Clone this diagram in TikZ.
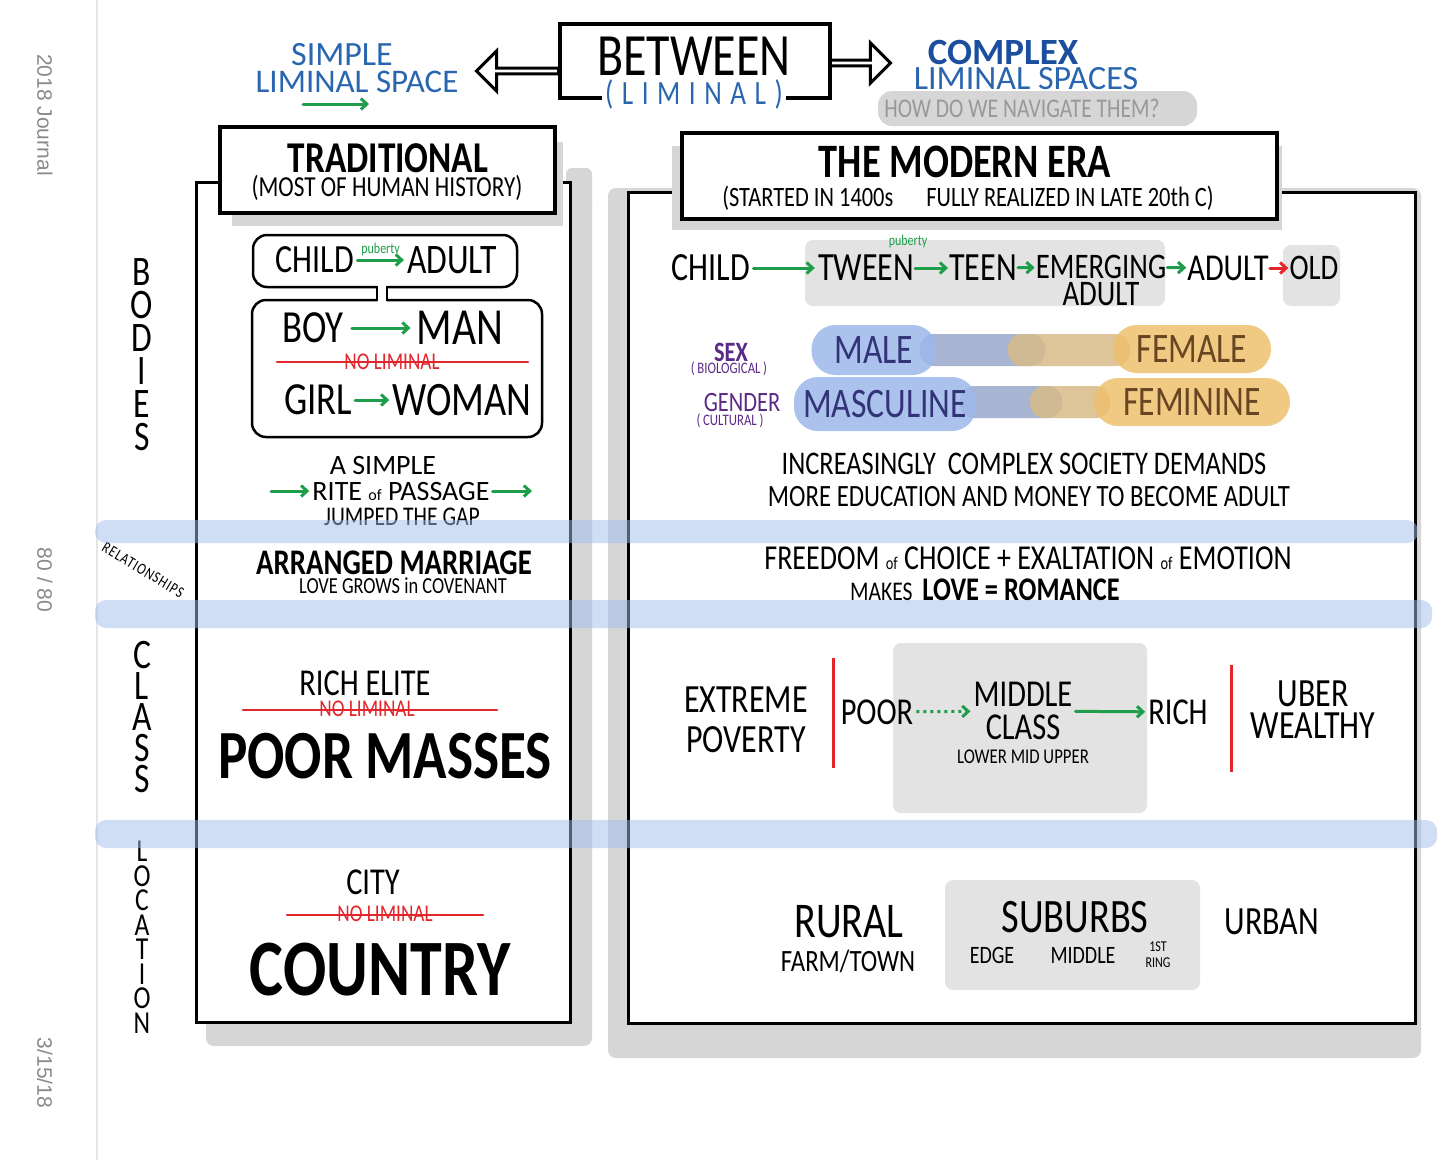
\documentclass[tikz,border=0pt]{standalone}
\usepackage{fontspec}
\setmainfont{Carlito}[FakeStretch=0.8]
\newfontfamily\handwide{Carlito}
\newfontfamily\sidefont{Liberation Sans}
\usepackage{tikz}
\usetikzlibrary{arrows.meta,positioning,shapes.arrows}

\definecolor{penblue}{HTML}{2A66B0}
\definecolor{deepblue}{HTML}{1B4F9E}
\definecolor{pengreen}{HTML}{1E9E4A}
\definecolor{penred}{HTML}{E3262B}
\definecolor{penpurple}{HTML}{5B2A86}
\definecolor{shadegrey}{HTML}{D6D6D6}
\definecolor{blockgrey}{HTML}{E3E3E3}
\definecolor{bandblue}{HTML}{A0BCEC}
\definecolor{maleblue}{HTML}{9DB8EA}
\definecolor{femorange}{HTML}{EEC06E}
\definecolor{bridgeblue}{HTML}{A7B4D2}
\definecolor{bridgetan}{HTML}{D8BC88}
\definecolor{pagegrey}{HTML}{8A8A8A}

\newcommand{\hsz}[1]{\fontsize{#1}{#1}\selectfont}
\newcommand{\hsl}[2]{\fontsize{#1}{#2}\selectfont}

\tikzset{
  hw/.style={inner sep=0pt},
  panel/.style={draw=black, line width=3pt, fill=white},
  titlebox/.style={draw=black, line width=3.5pt, fill=white},
  bubble/.style={draw=black, line width=2.5pt, rounded corners=14pt},
  greyblock/.style={fill=blockgrey, rounded corners=8pt},
  band/.style={fill=bandblue, fill opacity=0.5, rounded corners=11pt},
  garrow/.style={draw=pengreen, line width=3pt, line cap=round, -{Straight Barb[length=6pt, width=11pt]}, shorten <=3pt, shorten >=3pt},
  rarrow/.style={garrow, draw=penred},
  strike/.style={draw=penred, line width=2.5pt, line cap=round},
  nolim/.style={hw, text=penred, font=\hsz{24pt}},
  hollow/.style={single arrow, draw=black, fill=white, line width=3pt, inner sep=0pt, minimum width=40pt, single arrow head extend=9pt},
  sidetext/.style={text=pagegrey, rotate=-90, font=\sidefont\hsz{21pt}},
  blob/.style={hw, rounded corners=24pt, fill opacity=0.85, text opacity=1}
}

\begin{document}
\begin{tikzpicture}[x=1pt, y=-1pt]
\useasboundingbox (0,0) rectangle (1456,1160);
\fill[white] (0,0) rectangle (1456,1160);

% journal margin
\draw[black!10, line width=2pt] (97,0) -- (97,1160);
\node[sidetext] (journal) at (45,115) {2018 Journal};
\node[sidetext] (pages) at (45,580) {80 / 80};
\node[sidetext] (date) at (45,1073) {3/15/18};

% header
\node[hw, text=penblue, font=\handwide\hsz{34pt}] (simple) at (342,55) {SIMPLE};
\node[hw, text=penblue, font=\handwide\hsz{33pt}] (simplesp) at (357,82) {LIMINAL SPACE};
\coordinate (sa) at (300,104);
\coordinate (sb) at (372,104);
\draw[garrow] (sa) -- (sb);

\draw[titlebox] (560,24) rectangle (830,98);
\node[hw, font=\hsz{60pt}] (between) at (694,56) {BETWEEN};
\node[fill=white, inner sep=3pt, text=penblue, font={\hsz{34pt}\addfontfeatures{LetterSpace=25}}] (liminal) at (694,94) {(LIMINAL)};
\node[hollow, shape border rotate=180, minimum height=82pt] (leftarr) at (519,71) {};
\node[hollow, minimum height=60pt] (rightarr) at (859,63) {};

\node[hw, text=deepblue, font=\handwide\bfseries\hsz{37pt}] (complex) at (1003,52) {COMPLEX};
\node[hw, text=penblue, font=\handwide\hsz{34pt}] (complexsp) at (1026,79) {LIMINAL SPACES};
\fill[shadegrey, rounded corners=14pt] (878,91) rectangle (1197,126);
\node[hw, text=black!40, font=\hsz{27pt}] (navigate) at (1022,108) {HOW DO WE NAVIGATE THEM?};

% traditional panel
\fill[shadegrey, rounded corners=8pt] (206,192) rectangle (592,1046);
\fill[shadegrey, rounded corners=6pt] (566,168) rectangle (592,210);
\draw[panel] (196,182) rectangle (570,1022);
\fill[shadegrey] (232,142) rectangle (563,226);
\draw[titlebox] (220,127) rectangle (555,213);
\node[hw, font=\bfseries\hsz{44pt}] (trad) at (388,158) {TRADITIONAL};
\node[hw, font=\hsz{29pt}] (tradsub) at (387,188) {(MOST OF HUMAN HISTORY)};

% modern panel
\fill[shadegrey, rounded corners=8pt] (608,188) rectangle (1421,1058);
\draw[panel] (628,192) rectangle (1415,1023);
\fill[shadegrey] (672,146) rectangle (1282,230);
\draw[titlebox] (682,133) rectangle (1277,219);
\node[hw, font=\bfseries\hsz{48pt}] (modern) at (965,162) {THE MODERN ERA};
\node[hw, font=\hsz{28pt}] (modernsub) at (968,198) {(STARTED IN 1400s \quad FULLY REALIZED IN LATE 20th C)};

% row labels
\node[hw, align=center, font=\hsl{42pt}{33pt}] (bodies) at (142,355) {B\\O\\D\\I\\E\\S};
\node[hw, rotate=-31, font={\hsz{16pt}\addfontfeatures{LetterSpace=6}}] (rel) at (143,570) {RELATIONSHIPS};
\node[hw, align=center, font=\hsl{42pt}{31pt}] (class) at (142,717) {C\\L\\A\\S\\S};
\node[hw, align=center, font=\hsl{32pt}{24.5pt}] (location) at (142,937) {L\\O\\C\\A\\T\\I\\O\\N};

% traditional: bodies
\draw[bubble] (253,235) rectangle (517,287);
\draw[bubble] (252,300) rectangle (542,437);
\fill[white] (377,283) rectangle (387,304);
\draw[line width=2.5pt] (377,286) -- (377,301) (387,286) -- (387,301);
\node[hw, font=\hsz{40pt}] (lchild) at (315,260) {CHILD};
\node[hw, font=\hsz{42pt}] (ladult) at (452,260) {ADULT};
\draw[garrow] (lchild) -- (ladult) node[midway, above=3pt, hw, text=pengreen, font=\hsz{15pt}] (lpub) {puberty};
\node[hw, font=\hsz{46pt}] (boy) at (313,328) {BOY};
\node[hw, font=\hsz{52pt}] (man) at (460,328) {MAN};
\draw[garrow, shorten <=8pt, shorten >=6pt] (boy) -- (man);
\node[nolim] (nolim1) at (392,362) {NO LIMINAL};
\coordinate (s1a) at (277,362);
\coordinate (s1b) at (528,362);
\draw[strike] (s1a) -- (s1b);
\node[hw, font=\hsz{46pt}] (girl) at (318,400) {GIRL};
\node[hw, font=\hsz{48pt}] (woman) at (462,400) {WOMAN};
\draw[garrow] (girl) -- (woman);
\node[hw, font=\handwide\hsz{28pt}] (asimple) at (383,466) {A SIMPLE};
\node[hw, font=\handwide\hsz{28pt}] (rite) at (401,491) {RITE {\hsz{16pt}of} PASSAGE};
\coordinate (ra) at (268,491);
\coordinate (rb) at (535,491);
\draw[garrow] (ra) -- (rite);
\draw[garrow] (rite) -- (rb);
\node[hw, font=\hsz{27pt}] (jumped) at (402,517) {JUMPED THE GAP};

% traditional: relationships
\node[hw, font=\bfseries\hsz{36pt}] (arranged) at (394,563) {ARRANGED MARRIAGE};
\node[hw, font=\hsz{23pt}] (covenant) at (403,586) {LOVE GROWS in COVENANT};

% traditional: class
\node[hw, font=\hsz{38pt}] (elite) at (365,683) {RICH ELITE};
\node[nolim] (nolim2) at (367,709) {NO LIMINAL};
\coordinate (s2a) at (243,710);
\coordinate (s2b) at (497,710);
\draw[strike] (s2a) -- (s2b);
\node[hw, font=\bfseries\hsz{69pt}] (masses) at (385,756) {POOR MASSES};

% traditional: location
\node[hw, font=\hsz{38pt}] (city) at (373,882) {CITY};
\node[nolim] (nolim3) at (385,914) {NO LIMINAL};
\coordinate (s3a) at (287,915);
\coordinate (s3b) at (483,915);
\draw[strike] (s3a) -- (s3b);
\node[hw, font=\bfseries\hsz{80pt}] (country) at (380,970) {COUNTRY};

% modern: bodies
\fill[greyblock] (805,240) rectangle (1165,306);
\fill[greyblock] (1283,245) rectangle (1340,306);
\node[hw, font=\hsz{40pt}] (mchild) at (711,268) {CHILD};
\node[hw, font=\hsz{40pt}] (tween) at (866,268) {TWEEN};
\node[hw, font=\hsz{40pt}] (teen) at (983,268) {TEEN};
\node[hw, font=\hsz{36pt}] (emerg) at (1101,267) {EMERGING};
\node[hw, font=\hsz{36pt}, below=3pt of emerg] (emerg2) {ADULT};
\node[hw, font=\hsz{38pt}] (madult) at (1228,268) {ADULT};
\node[hw, font=\hsz{36pt}] (old) at (1314,268) {OLD};
\draw[garrow] (mchild) -- (tween);
\draw[garrow, shorten <=1pt, shorten >=1pt] (tween) -- (teen);
\draw[garrow, shorten <=1pt, shorten >=1pt] (teen) -- (emerg);
\draw[garrow, shorten <=1pt, shorten >=1pt] (emerg) -- (madult);
\draw[rarrow, shorten <=1pt, shorten >=1pt] (madult) -- (old);
\node[hw, text=pengreen, font=\hsz{15pt}] (mpub) at (908,241) {puberty};

\node[hw, text=penpurple, font=\bfseries\hsz{28pt}] (sex) at (731,352) {SEX};
\node[hw, text=penpurple, font=\hsz{16pt}] (bio) at (729,369) {(\,BIOLOGICAL\,)};
\node[hw, text=penpurple, font=\hsz{28pt}] (gender) at (742,403) {GENDER};
\node[hw, text=penpurple, font=\hsz{16pt}] (cult) at (730,421) {(\,CULTURAL\,)};
\fill[bridgeblue, rounded corners=14pt] (920,334) rectangle (1045,366);
\fill[bridgetan, opacity=0.85, rounded corners=14pt] (1008,334) rectangle (1130,366);
\fill[bridgeblue, rounded corners=14pt] (960,386) rectangle (1062,418);
\fill[bridgetan, opacity=0.85, rounded corners=14pt] (1030,386) rectangle (1110,418);
\node[blob, fill=maleblue, text=black!55!blue!60!gray, minimum width=125pt, minimum height=50pt, font=\hsz{42pt}] (male) at (874,350) {MALE};
\node[blob, fill=femorange, text=black!45!brown, minimum width=158pt, minimum height=48pt, font=\hsz{42pt}] (female) at (1192,349) {FEMALE};
\node[blob, fill=maleblue, text=black!55!blue!60!gray, minimum width=182pt, minimum height=54pt, font=\hsz{42pt}] (masc) at (885,404) {MASCULINE};
\node[blob, fill=femorange, text=black!45!brown, minimum width=196pt, minimum height=48pt, font=\hsz{42pt}] (fem) at (1192,402) {FEMININE};

\node[hw, font=\hsz{33pt}] (demands) at (1024,464) {INCREASINGLY \ COMPLEX SOCIETY DEMANDS};
\node[hw, font=\hsz{31pt}] (education) at (1029,497) {MORE EDUCATION AND MONEY TO BECOME ADULT};

% modern: relationships
\node[hw, font=\hsz{35pt}] (freedom) at (1028,558) {FREEDOM {\hsz{18pt}of} CHOICE + EXALTATION {\hsz{18pt}of} EMOTION};
\node[hw, font=\hsz{27pt}] (romance) at (985,590) {MAKES \ {\bfseries\hsz{33pt}LOVE = ROMANCE}};

% modern: class
\fill[greyblock] (893,643) rectangle (1147,813);
\node[hw, align=center, font=\hsl{40pt}{40pt}] (extreme) at (746,720) {EXTREME\\POVERTY};
\coordinate (r1a) at (833,658);
\coordinate (r1b) at (833,768);
\draw[penred, line width=3pt] (r1a) -- (r1b);
\node[hw, font=\hsz{38pt}] (poor) at (877,712) {POOR};
\node[hw, align=center, font=\hsl{38pt}{33pt}] (middle) at (1023,711) {MIDDLE\\CLASS};
\node[hw, font=\hsz{21pt}, below=10pt of middle] (lmu) {LOWER MID UPPER};
\node[hw, font=\hsz{38pt}] (rich) at (1178,712) {RICH};
\draw[garrow, dash pattern=on 3pt off 4pt, line cap=butt] (poor) -- (middle);
\draw[garrow] (middle) -- (rich);
\coordinate (r2a) at (1231,665);
\coordinate (r2b) at (1231,772);
\draw[penred, line width=3pt] (r2a) -- (r2b);
\node[hw, align=center, font=\hsl{40pt}{32pt}] (uber) at (1313,710) {UBER\\WEALTHY};

% modern: location
\fill[greyblock] (945,880) rectangle (1200,990);
\node[hw, font=\hsz{50pt}] (rural) at (849,922) {RURAL};
\node[hw, font=\hsz{31pt}] (farm) at (848,961) {FARM/TOWN};
\node[hw, font=\hsz{48pt}] (suburbs) at (1075,917) {SUBURBS};
\node[hw, font=\hsz{25pt}] (edge) at (992,955) {EDGE};
\node[hw, font=\hsz{25pt}] (smiddle) at (1083,955) {MIDDLE};
\node[hw, align=center, font=\hsl{15pt}{16pt}] (ring) at (1158,955) {1ST\\RING};
\node[hw, font=\hsz{40pt}] (urban) at (1272,922) {URBAN};

% row bands
\fill[band] (95,520) rectangle (1418,543);
\fill[band] (95,600) rectangle (1432,628);
\fill[band] (95,820) rectangle (1437,848);
\end{tikzpicture}
\end{document}
